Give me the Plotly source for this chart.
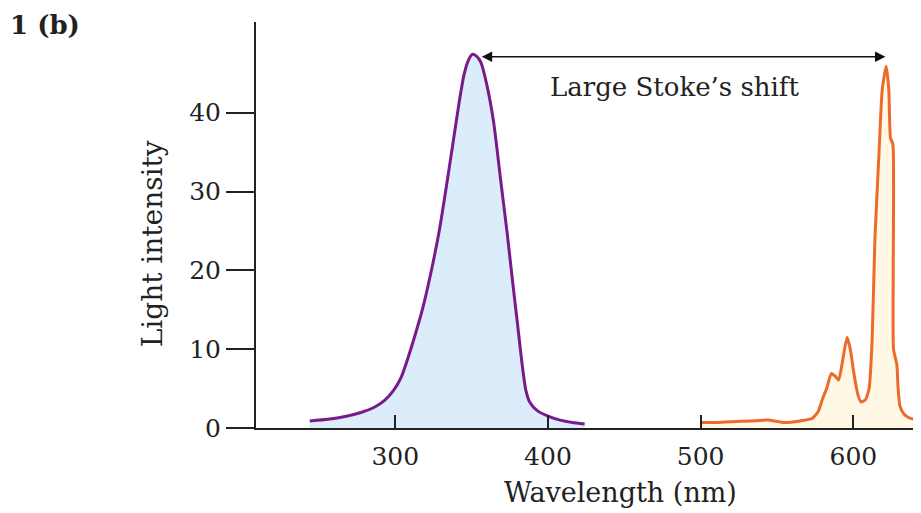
import plotly.graph_objects as go

# Excitation (absorption) spectrum
exc_wl = [244, 256, 268, 278, 286, 293, 299, 304, 308, 313, 318, 324, 329, 334, 338,
          342, 345, 348, 350.5, 353, 356, 360, 364.5, 369, 373.3, 377, 380, 383, 385.5,
          388, 393, 400, 408, 416, 424]
exc_int = [0.9, 1.1, 1.5, 2.0, 2.6, 3.5, 4.8, 6.5, 8.7, 11.8, 15.2, 20.3, 25.2, 31.3, 36.4,
           41.5, 44.8, 46.7, 47.4, 47.2, 46.4, 43.5, 38.7, 31.5, 24.7, 18.3, 13.3, 8.2, 4.8,
           3.3, 2.2, 1.5, 1.0, 0.7, 0.5]

# Emission spectrum
emi_wl = [500, 510, 520, 533, 544, 555, 565, 573, 577, 580, 582.5, 585.5, 588, 590.4, 593,
          595.9, 598, 600.3, 603, 605, 608, 610.3, 612.3, 614.1, 616.7, 618.9, 621.5, 623.2,
          624.3, 625.9, 626.1, 626.3, 628.5, 629.3, 630.5, 633, 636.4, 643]
emi_int = [0.7, 0.7, 0.8, 0.9, 1.0, 0.7, 0.9, 1.2, 2.1, 3.8, 5.0, 6.9, 6.6, 6.1, 8.6,
           11.5, 10.0, 7.0, 4.2, 3.3, 3.6, 5.0, 11.2, 23.9, 34.5, 42.9, 45.9, 43.0,
           36.8, 36.0, 20.0, 10.0, 8.0, 5.0, 2.8, 1.8, 1.3, 1.0]

x_ticks = [300, 400, 500, 600]
y_ticks = [0, 10, 20, 30, 40]

FONT = "DejaVu Serif"
INK = "#222222"

fig = go.Figure()
fig.add_trace(go.Scatter(x=exc_wl, y=exc_int, mode="lines", fill="tozeroy",
                         fillcolor="#dbecfa", line=dict(color="#7a1a8a", width=3, shape="spline", smoothing=0.6),
                         showlegend=False, hoverinfo="skip"))
fig.add_trace(go.Scatter(x=emi_wl, y=emi_int, mode="lines", fill="tozeroy",
                         fillcolor="#fff8e4", line=dict(color="#ee6a2a", width=3, shape="spline", smoothing=0.5),
                         showlegend=False, hoverinfo="skip"))

# page body has an 8px margin, so the figure is drawn 8px smaller and shifted
fig.update_layout(
    width=913, height=505,
    margin=dict(l=248, r=0, t=14, b=85),
    paper_bgcolor="white", plot_bgcolor="white",
    font=dict(family=FONT, color=INK, size=25),
    xaxis=dict(range=[208.8, 644.3], tickvals=x_ticks, ticks="inside", ticklen=13, tickwidth=1.5,
               tickcolor=INK, showline=True, linecolor=INK, linewidth=2, showgrid=False,
               zeroline=False, tickfont=dict(size=25), ticklabelstandoff=5),
    yaxis=dict(range=[0, 51.5], tickvals=y_ticks, ticks="outside", ticklen=28, tickwidth=1.5,
               tickcolor=INK, showline=True, linecolor=INK, linewidth=2, showgrid=False,
               zeroline=False, tickfont=dict(size=25)),
)

# double-headed arrow
fig.add_annotation(x=621, y=47.1, ax=355.7, ay=47.1, xref="x", yref="y", axref="x", ayref="y",
                   text="", showarrow=True, arrowhead=2, startarrowhead=2, arrowside="end+start",
                   arrowsize=1.3, arrowwidth=1.6, arrowcolor="#111111")
fig.add_annotation(x=482.7, y=43.2, xref="x", yref="y", text="Large Stoke’s shift",
                   showarrow=False, font=dict(size=26, family=FONT, color=INK))

# axis titles
fig.add_annotation(x=447.8, y=-0.160, xref="x", yref="paper", text="Wavelength (nm)",
                   showarrow=False, font=dict(size=27, family=FONT, color=INK),
                   xanchor="center", yanchor="middle")
fig.add_annotation(x=-0.156, y=0.453, xref="paper", yref="paper", text="Light intensity",
                   showarrow=False, textangle=-90, font=dict(size=28, family=FONT, color=INK),
                   xanchor="center", yanchor="middle")
fig.add_annotation(x=-0.373, y=0.993, xref="paper", yref="paper", text="<b>1 (b)</b>",
                   showarrow=False, font=dict(size=26, family=FONT, color=INK),
                   xanchor="left", yanchor="middle")

fig.write_html("out.html")
